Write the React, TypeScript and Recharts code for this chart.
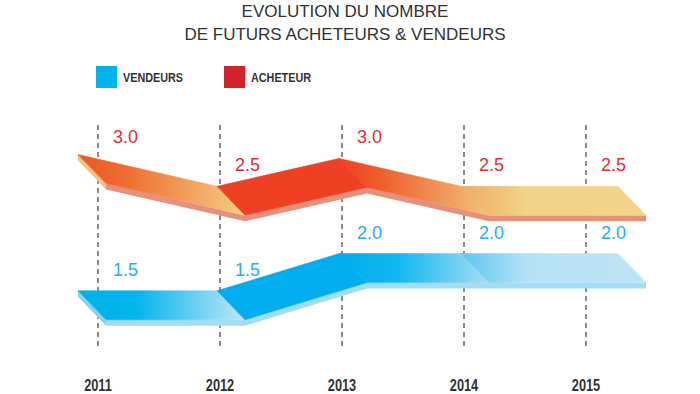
import { CartesianGrid, Legend, Line, LineChart, XAxis, YAxis } from "recharts";

const ANNEES = ["2011", "2012", "2013", "2014", "2015"];
const VENDEURS = [1.5, 1.5, 2.0, 2.0, 2.0];
const ACHETEURS = [3.0, 2.5, 3.0, 2.5, 2.5];

const data = ANNEES.map((annee, i) => ({
  annee,
  vendeurs: VENDEURS[i],
  acheteurs: ACHETEURS[i],
}));

const SANS = '"Liberation Sans", Arial, sans-serif';
const TEXTE = "#333333";
const GRIS = "#8c8c8c";
const BLEU_LEG = "#00b3ec";
const ROUGE_LEG = "#d2232a";
const BLEU_TXT = "#1fb1ec";
const ROUGE_TXT = "#e52d35";
const SERRE = 0.8; // police "condensed" simulée

// géométrie du ruban "3D"
const DECALAGE_X = -3; // sommets un peu à gauche des repères
const EXT_G = 17;
const EXT_D = 35;
const EP_X = 28; // face avant : décalage bas-droite
const EP_Y = 29;
const EPAISSEUR = 6; // tranche inférieure

type Stop = [number, string];

// un dégradé par segment (2011-12, 12-13, 13-14, 14-15)
const DEG_ACH: Stop[][] = [
  [[0, "#ee5524"], [0.3, "#ef6f31"], [1, "#f3cf87"]],
  [[0, "#ef4023"], [1, "#ef4023"]],
  [[0, "#ef4023"], [0.25, "#ef5a2a"], [1, "#f2c27c"]],
  [[0, "#f0aa66"], [0.35, "#f1d387"], [1, "#f1d588"]],
];
const DEG_VEN: Stop[][] = [
  [[0, "#00b2ec"], [0.35, "#03b5ed"], [1, "#c0e6f7"]],
  [[0, "#00adee"], [1, "#00adee"]],
  [[0, "#00acee"], [0.4, "#12b9f0"], [1, "#a8ddf5"]],
  [[0, "#5ac6f1"], [0.35, "#b3e2f6"], [1, "#bce5f7"]],
];

type Pt = { x: number; y: number };
const pts = (a: Pt[]) => a.map((p) => `${p.x},${p.y}`).join(" ");

function makeRuban(id: string, degrades: Stop[][], tranche: string, bout: string) {
  return function RubanDot(props: any) {
    const { index, points } = props;
    if (index !== 0 || !points || points.length < 2) return <g key={`${id}-${index}`} />;
    const P: Pt[] = points.map((p: any) => ({ x: p.x + DECALAGE_X, y: p.y }));
    const n = P.length;
    const s0 = (P[1].y - P[0].y) / (P[1].x - P[0].x);
    const sn = (P[n - 1].y - P[n - 2].y) / (P[n - 1].x - P[n - 2].x);
    const T = P.map((p) => ({ ...p }));
    T[0] = { x: P[0].x - EXT_G, y: P[0].y - s0 * EXT_G };
    T[n - 1] = { x: P[n - 1].x + EXT_D, y: P[n - 1].y + sn * EXT_D };
    const B = T.map((p) => ({ x: p.x + EP_X, y: p.y + EP_Y }));
    const down = (p: Pt) => ({ x: p.x, y: p.y + EPAISSEUR });

    const tranchePts = [...B.map(down), ...[...B].reverse()];
    const boutPts = [T[0], down(T[0]), down(B[0]), B[0]];

    return (
      <g key={`${id}-ruban`}>
        <defs>
          {degrades.map((stops, i) => (
            <linearGradient key={i} id={`${id}-g${i}`} x1="0" y1="0" x2="1" y2="0">
              {stops.map(([o, c], j) => (
                <stop key={j} offset={o} stopColor={c} />
              ))}
            </linearGradient>
          ))}
        </defs>
        <polygon points={pts(tranchePts)} fill={tranche} />
        <polygon points={pts(boutPts)} fill={bout} />
        {T.slice(0, -1).map((p, i) => (
          <polygon
            key={i}
            points={pts([p, T[i + 1], B[i + 1], B[i]])}
            fill={`url(#${id}-g${i % degrades.length})`}
            stroke={`url(#${id}-g${i % degrades.length})`}
            strokeWidth={0.6}
          />
        ))}
      </g>
    );
  };
}

function makeValeur(couleur: string) {
  return function Valeur(props: any) {
    const { x, y, value, index } = props;
    if (x == null || y == null) return <g />;
    return (
      <text
        key={index}
        x={Number(x) + 15}
        y={Number(y) - 15}
        fill={couleur}
        fontSize={18}
        fontFamily={SANS}
      >
        {Number(value).toFixed(1)}
      </text>
    );
  };
}

function TickAnnee(props: any) {
  const { x, y, payload } = props;
  return (
    <g transform={`translate(${x},${y})`}>
      <text
        transform={`scale(${SERRE},1)`}
        textAnchor="middle"
        y={0}
        dy="0.71em"
        fontSize={16}
        fontWeight={700}
        fontFamily={SANS}
        fill={TEXTE}
      >
        {payload.value}
      </text>
    </g>
  );
}

function Legende() {
  const items = [
    { nom: "VENDEURS", couleur: BLEU_LEG },
    { nom: "ACHETEUR", couleur: ROUGE_LEG },
  ];
  return (
    <div style={{ display: "flex" }}>
      {items.map((it) => (
        <div key={it.nom} style={{ display: "flex", alignItems: "center", width: 128 }}>
          <span style={{ display: "inline-block", width: 21, height: 22, background: it.couleur }} />
          <span
            style={{
              display: "inline-block",
              marginLeft: 6,
              fontFamily: SANS,
              fontSize: 13.5,
              fontWeight: 700,
              color: TEXTE,
              transform: `scaleX(${SERRE})`,
              transformOrigin: "left center",
            }}
          >
            {it.nom}
          </span>
        </div>
      ))}
    </div>
  );
}

export default function App() {
  return (
    <div style={{ position: "absolute", left: 0, top: 0, width: 700, height: 394, background: "#fff" }}>
      <div
        style={{
          position: "absolute",
          left: 0,
          top: 0,
          width: 690,
          textAlign: "center",
          fontFamily: SANS,
          fontSize: 17,
          lineHeight: "23px",
          color: TEXTE,
          zIndex: 2,
        }}
      >
        EVOLUTION DU NOMBRE
        <br />
        DE FUTURS ACHETEURS &amp; VENDEURS
      </div>
      <LineChart width={700} height={394} data={data} margin={{ top: 125, right: 114, bottom: 0, left: 98 }}>
        <CartesianGrid horizontal={false} stroke={GRIS} strokeWidth={2} strokeDasharray="5 4" />
        <XAxis
          dataKey="annee"
          scale="point"
          padding={{ left: 0, right: 0 }}
          axisLine={false}
          tickLine={false}
          height={46}
          tickMargin={26}
          interval={0}
          tick={<TickAnnee />}
        />
        <YAxis yAxisId="ach" hide domain={[-0.4, 3.6]} />
        <YAxis yAxisId="ven" hide domain={[0.73, 3.73]} />
        <Legend
          verticalAlign="middle"
          align="center"
          layout="horizontal"
          wrapperStyle={{ top: 66, left: 96, width: "auto", height: "auto" }}
          content={() => <Legende />}
        />
        <Line
          yAxisId="ach"
          dataKey="acheteurs"
          name="ACHETEUR"
          stroke="none"
          dot={makeRuban("ach", DEG_ACH, "#e8917a", "#f3c680")}
          activeDot={false}
          label={makeValeur(ROUGE_TXT)}
          isAnimationActive={false}
        />
        <Line
          yAxisId="ven"
          dataKey="vendeurs"
          name="VENDEURS"
          stroke="none"
          dot={makeRuban("ven", DEG_VEN, "#a4dcf5", "#8ad4f3")}
          activeDot={false}
          label={makeValeur(BLEU_TXT)}
          isAnimationActive={false}
        />
      </LineChart>
    </div>
  );
}
